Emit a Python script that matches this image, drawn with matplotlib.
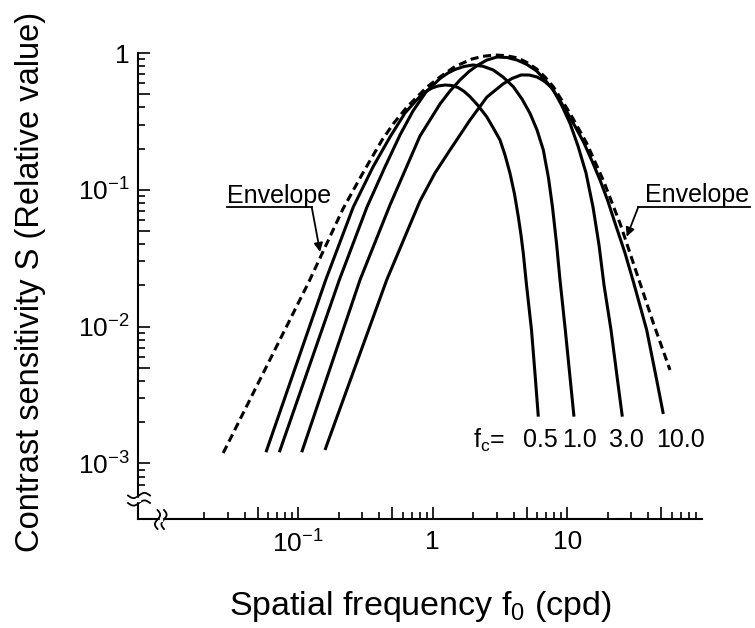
import numpy as np
import matplotlib
matplotlib.use("Agg")
import matplotlib.pyplot as plt
from matplotlib.ticker import FixedLocator, FuncFormatter, NullFormatter
from matplotlib.transforms import IdentityTransform

plt.rcParams['font.family'] = ['Liberation Sans', 'DejaVu Sans']
plt.rcParams['mathtext.fontset'] = 'custom'
plt.rcParams['mathtext.rm'] = 'Liberation Sans'
plt.rcParams['mathtext.it'] = 'Liberation Sans:italic'
plt.rcParams['mathtext.bf'] = 'Liberation Sans:bold'
plt.rcParams['lines.scale_dashes'] = False

# ---- data: spatial frequency f0 (cpd) and relative contrast sensitivity S ----
env_f = [0.0277, 0.120, 0.150, 0.215, 0.303, 0.420, 0.515, 0.644, 0.907, 1.133,
         1.465, 1.96, 2.366, 2.90, 3.508, 4.31, 5.025, 5.93, 6.839, 7.88, 10.5,
         13.96, 18.5, 24.7, 35.8, 43.7, 58.1]
env_s = [0.00119, 0.0212, 0.0339, 0.0724, 0.133, 0.231, 0.308, 0.403, 0.564,
         0.668, 0.797, 0.904, 0.946, 0.967, 0.957, 0.919, 0.852, 0.764, 0.668,
         0.567, 0.362, 0.219, 0.118, 0.0569, 0.0191, 0.0106, 0.00482]

fc_values = ["0.5", "1.0", "3.0", "10.0"]

s_f_05 = [0.0576, 0.1601, 0.2568, 0.3598, 0.4815, 0.6223, 0.7137, 0.8046,
          0.8916, 0.9881, 1.0949, 1.2345, 1.3914, 1.5425, 1.7088, 1.894,
          2.1715, 2.5206, 2.8076, 3.1652, 3.4484, 3.7561, 4.0563, 4.3292,
          4.5342, 4.7165, 4.983, 5.4276, 5.8117, 6.0979]
s_v_05 = [0.001206, 0.02191, 0.07485, 0.1468, 0.2432, 0.3641, 0.4238, 0.4809,
          0.5231, 0.5547, 0.5737, 0.5834, 0.5785, 0.5594, 0.5248, 0.4793,
          0.4133, 0.3421, 0.2854, 0.2312, 0.1796, 0.132, 0.0932, 0.0636,
          0.0467, 0.0343, 0.02014, 0.00944, 0.00407, 0.002195]

s_f_10 = [0.0724, 0.2021, 0.3247, 0.4417, 0.5713, 0.7137, 0.8916, 1.1332,
          1.2997, 1.465, 1.7088, 1.9934, 2.3659, 2.8222, 3.332, 3.9746,
          4.6131, 5.2891, 5.9649, 6.6438, 7.2611, 7.7716, 8.3238, 8.8409,
          9.6806, 10.545, 11.232]
s_v_10 = [0.001206, 0.02191, 0.07485, 0.1468, 0.2515, 0.3767, 0.5187, 0.651,
          0.7142, 0.7575, 0.7969, 0.8172, 0.7996, 0.7511, 0.6676, 0.5671,
          0.461, 0.3624, 0.2736, 0.1954, 0.122, 0.07485, 0.04085, 0.02191,
          0.00944, 0.00407, 0.002195]

s_f_30 = [0.1062, 0.288, 0.4815, 0.8046, 1.1332, 1.345, 1.5959, 1.862, 2.1715,
          2.5326, 3.0072, 3.5671, 4.2353, 5.0245, 5.9332, 6.8391, 7.8833,
          9.0707, 10.491, 12.032, 13.799, 15.555, 17.238, 18.779, 21.174,
          23.659, 25.691]
s_v_30 = [0.001206, 0.02191, 0.07743, 0.2473, 0.4238, 0.5275, 0.6348, 0.7323,
          0.8172, 0.8888, 0.9349, 0.9271, 0.8888, 0.824, 0.7386, 0.6348,
          0.5364, 0.4168, 0.3063, 0.209, 0.1327, 0.07485, 0.0395, 0.02014,
          0.00944, 0.00407, 0.002195]

s_f_100 = [0.1582, 0.455, 0.8046, 1.0402, 1.345, 1.894, 2.5326, 3.332, 3.8873,
           4.5342, 5.2, 5.9649, 6.7222, 7.5777, 8.6903, 10.051, 11.628, 13.335,
           15.291, 17.536, 19.935, 22.67, 26.9, 31.384, 39.003, 46.286, 51.826]
s_v_100 = [0.001253, 0.02191, 0.08279, 0.1327, 0.1954, 0.3237, 0.477, 0.5935,
           0.651, 0.6906, 0.6906, 0.6676, 0.6243, 0.5644, 0.461, 0.3641, 0.2829,
           0.2198, 0.1624, 0.1179, 0.0842, 0.05718, 0.03451, 0.02048, 0.00944,
           0.00407, 0.002297]

# tick values
x_long_ticks = [0.05, 0.1, 0.5, 1, 5, 10, 50]
x_short_ticks = [0.02, 0.03, 0.04, 0.06, 0.07, 0.08, 0.09,
                 0.2, 0.3, 0.4, 0.6, 0.7, 0.8, 0.9,
                 2, 3, 4, 6, 7, 8, 9,
                 20, 30, 40, 60, 70, 80, 90]
y_long_ticks = [1, 0.5, 0.1, 0.05, 0.01, 0.005, 0.001]
y_short_ticks = [0.9, 0.8, 0.7, 0.6, 0.4, 0.3, 0.2,
                 0.09, 0.08, 0.07, 0.06, 0.04, 0.03, 0.02,
                 0.009, 0.008, 0.007, 0.006, 0.004, 0.003, 0.002,
                 0.0009, 0.0008, 0.0007]

W, H = 755, 628
fig = plt.figure(figsize=(W / 100, H / 100), dpi=100)
ax_l, ax_r, ax_t, ax_b = 138, 701.7, 53, 519.3
ax = fig.add_axes([ax_l / W, 1 - ax_b / H, (ax_r - ax_l) / W, (ax_b - ax_t) / H])
ax.set_xscale('log')
ax.set_yscale('log')
ax.set_xlim(10 ** -2.191, 100)
ax.set_ylim(10 ** -3.409, 1)

LW = 2.2
ax.plot(env_f, env_s, color='k', lw=LW, dashes=(5.8, 3.4), clip_on=False,
        dash_capstyle='butt', dash_joinstyle='round')
for fx, sv in [(s_f_05, s_v_05), (s_f_10, s_v_10), (s_f_30, s_v_30),
               (s_f_100, s_v_100)]:
    ax.plot(fx, sv, color='k', lw=LW, clip_on=False, solid_joinstyle='round',
            solid_capstyle='butt')

# axes styling
for side in ('top', 'right'):
    ax.spines[side].set_visible(False)
for side in ('left', 'bottom'):
    ax.spines[side].set_linewidth(1.5)


def decade_label(v, pos):
    e = int(round(np.log10(v)))
    if abs(np.log10(v) - e) > 1e-6:
        return ''
    if e == 0:
        return '1'
    if e == 1:
        return '10'
    return r'$\mathregular{10^{%d}}$' % e


ax.xaxis.set_major_locator(FixedLocator(x_long_ticks))
ax.xaxis.set_minor_locator(FixedLocator(x_short_ticks))
ax.yaxis.set_major_locator(FixedLocator(y_long_ticks))
ax.yaxis.set_minor_locator(FixedLocator(y_short_ticks))
ax.xaxis.set_major_formatter(FuncFormatter(decade_label))
ax.yaxis.set_major_formatter(FuncFormatter(decade_label))
ax.xaxis.set_minor_formatter(NullFormatter())
ax.yaxis.set_minor_formatter(NullFormatter())
ax.tick_params(which='both', direction='in', width=1.2, labelsize=19)
ax.tick_params(which='major', length=8.5)
ax.tick_params(which='minor', length=5)
ax.tick_params(axis='x', which='major', pad=8)
ax.tick_params(axis='y', which='major', pad=6)

# axis titles
fig.text(420 / W, 1 - 615 / H, r'Spatial frequency f$_\mathregular{0}$ (cpd)',
         ha='center', va='baseline', fontsize=24.5)
fig.text(39.5 / W, 1 - 282 / H, 'Contrast sensitivity S (Relative value)',
         rotation=90, rotation_mode='anchor', ha='center', va='baseline',
         fontsize=23.5)

# annotations
TXT = 18
ax.text(0.0296, 0.0801, 'Envelope', fontsize=TXT, ha='left', va='baseline')
ax.plot([0.0296, 0.126], [0.0749, 0.0749], color='k', lw=1.3, clip_on=False)
ax.annotate('', xy=(0.1455, 0.0351), xytext=(0.126, 0.0749),
            arrowprops=dict(arrowstyle='-|>', lw=1.3, color='k',
                            mutation_scale=13, shrinkA=0, shrinkB=0))
ax.text(37.9, 0.0814, 'Envelope', fontsize=TXT, ha='left', va='baseline',
        clip_on=False)
ax.plot([33.8, 228.0], [0.0749, 0.0749], color='k', lw=1.3, clip_on=False)
ax.annotate('', xy=(27.7, 0.0454), xytext=(33.8, 0.0749),
            arrowprops=dict(arrowstyle='-|>', lw=1.3, color='k',
                            mutation_scale=13, shrinkA=0, shrinkB=0))

label_y = 1.48e-3
ax.text(3.45, label_y, r'f$_\mathregular{c}$=', fontsize=TXT, ha='right',
        va='center')
for lab, xpos in zip(fc_values, [6.3, 12.35, 27.4, 69.5]):
    ax.text(xpos, label_y, lab, fontsize=TXT, ha='center', va='center')

# axis break marks (drawn in figure pixels)
fig.canvas.draw()
ident = IdentityTransform()
t = np.linspace(0, 1, 40)
for xb in (157.5, 164.0):
    yy = 510 + 19 * t
    xx = xb + 2.6 * np.sin(2 * np.pi * t)
    fig.add_artist(plt.Line2D(xx, H - yy, transform=ident, color='k', lw=1.3))
fig.add_artist(plt.Polygon([[159.5, H - 517.5], [162.0, H - 517.5],
                            [162.0, H - 521.0], [159.5, H - 521.0]],
                           closed=True, transform=ident, color='white',
                           zorder=5))
for yb in (495.5, 503.0):
    xx = 128 + 22 * t
    yy = yb + 2.6 * np.sin(2 * np.pi * t)
    fig.add_artist(plt.Line2D(xx, H - yy, transform=ident, color='k', lw=1.3))
fig.add_artist(plt.Polygon([[136.0, H - 497.5], [140.0, H - 497.5],
                            [140.0, H - 501.0], [136.0, H - 501.0]],
                           closed=True, transform=ident, color='white',
                           zorder=5))

fig.savefig('out.png', dpi=100)
